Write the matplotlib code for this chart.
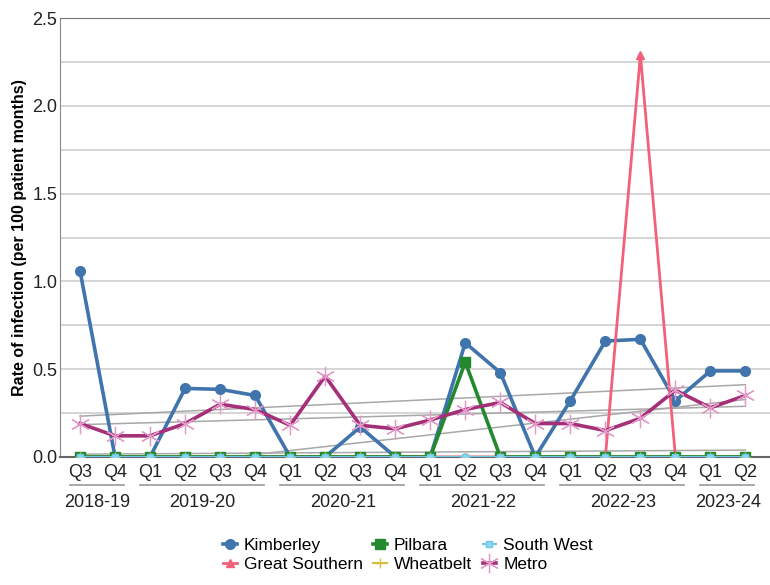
import numpy as np
import matplotlib.pyplot as plt
from matplotlib.ticker import MultipleLocator
import matplotlib.transforms as mtransforms

plt.rcParams['font.family'] = ['Liberation Sans', 'DejaVu Sans']
narrow = ['Liberation Sans Narrow', 'Liberation Sans', 'DejaVu Sans']

# quarters from 2018-19 Q3 to 2023-24 Q2
quarters = ['Q3', 'Q4',
            'Q1', 'Q2', 'Q3', 'Q4',
            'Q1', 'Q2', 'Q3', 'Q4',
            'Q1', 'Q2', 'Q3', 'Q4',
            'Q1', 'Q2', 'Q3', 'Q4',
            'Q1', 'Q2']
years = ['2018-19', '2019-20', '2020-21', '2021-22', '2022-23', '2023-24']
year_quarters = [2, 4, 4, 4, 4, 2]

kimberley = [1.06, 0.0, 0.0, 0.39, 0.385, 0.35, 0.0, 0.0, 0.17, 0.0,
             0.0, 0.65, 0.48, 0.0, 0.32, 0.66, 0.67, 0.32, 0.49, 0.49]
great_southern = [0.0, 0.0, 0.0, 0.0, 0.0, 0.0, 0.0, 0.0, 0.0, 0.0,
                  0.0, 0.0, 0.0, 0.0, 0.0, 0.0, 2.29, 0.0, 0.0, 0.0]
pilbara = [0.0, 0.0, 0.0, 0.0, 0.0, 0.0, 0.0, 0.0, 0.0, 0.0,
           0.0, 0.54, 0.0, 0.0, 0.0, 0.0, 0.0, 0.0, 0.0, 0.0]
wheatbelt = [0.0] * 20
south_west = [0.0] * 20
metro = [0.19, 0.12, 0.12, 0.19, 0.30, 0.27, 0.18, 0.46, 0.18, 0.16,
         0.21, 0.27, 0.31, 0.19, 0.19, 0.15, 0.22, 0.38, 0.28, 0.35]

x = np.arange(len(quarters))

fig = plt.figure(figsize=(7.7, 5.85), dpi=100)
ax = fig.add_axes([0.078, 0.219, 0.922, 0.750])

# linear trend lines
for vals in [kimberley, metro, great_southern, pilbara]:
    k, b = np.polyfit(x, vals, 1)
    ax.plot(x, k * x + b, color='#a8a8a8', lw=1.1, zorder=2)

ax.plot(x, kimberley, color='#3f74ad', lw=2.6, marker='o', ms=7,
        label='Kimberley', zorder=4)
ax.plot(x, great_southern, color='#f2607a', lw=2.0, marker='^', ms=6,
        label='Great Southern', zorder=4)
ax.plot(x, pilbara, color='#23892f', lw=2.6, marker='s', ms=7,
        label='Pilbara', zorder=4)
ax.plot(x, wheatbelt, color='#d8bd45', lw=1.5, marker='+', ms=7,
        label='Wheatbelt', zorder=4)
ax.plot(x, south_west, color='#6cc7ea', lw=1.5, marker='s', ms=5,
        mfc='#8fd6f2', mec='#6cc7ea', label='South West', zorder=4)
ax.plot(x, metro, color='#a52f78', lw=2.6, marker=(6, 2, 0), ms=14,
        mec='#e29ac8', mew=0.9, label='Metro', zorder=5)

ax.set_xlim(-0.57, 19.7)
ax.set_ylim(0, 2.5)
ax.yaxis.set_major_locator(MultipleLocator(0.5))
ax.yaxis.set_minor_locator(MultipleLocator(0.25))
ax.yaxis.set_major_formatter(plt.FuncFormatter(lambda v, p: f'{v:.1f}'))
ax.grid(axis='y', which='both', color='#d2d2d2', lw=1.3, zorder=0)
ax.set_axisbelow(True)
ax.tick_params(axis='y', which='both', length=0, labelsize=13, pad=2,
               labelcolor='#222222')
ax.tick_params(axis='x', length=0, labelsize=13, pad=5, labelcolor='#222222')
ax.set_xticks(x)
ax.set_xticklabels(quarters, family=narrow)
for t in ax.get_yticklabels():
    t.set_family(narrow)
ax.set_ylabel('Rate of infection (per 100 patient months)', fontsize=11.5,
              fontweight='bold', labelpad=4)

ax.spines['right'].set_visible(False)
ax.spines['left'].set_color('#888888')
ax.spines['bottom'].set_color('#666666')
ax.spines['top'].set_color('#777777')
ax.spines['bottom'].set_linewidth(1.5)

# financial year groups under the quarter labels
trans = mtransforms.blended_transform_factory(ax.transData, ax.transAxes)
start = 0
for year, n in zip(years, year_quarters):
    end = start + n - 1
    ax.plot([start - 0.3, end + 0.25], [-0.063, -0.063], color='#999999',
            lw=1.2, transform=trans, clip_on=False)
    ax.text((start + end) / 2, -0.085, year, transform=trans, ha='center',
            va='top', fontsize=13, family=narrow, color='#222222')
    start += n

handles, labels = ax.get_legend_handles_labels()
order = ['Kimberley', 'Great Southern', 'Pilbara', 'Wheatbelt', 'South West', 'Metro']
hmap = dict(zip(labels, handles))
ax.legend([hmap[n] for n in order], order, ncol=3, loc='upper center',
          bbox_to_anchor=(0.49, -0.15), frameon=False,
          prop={'family': narrow, 'size': 12.5},
          handlelength=0.8, handletextpad=0.4, columnspacing=0.6,
          labelspacing=0.2)

fig.savefig('out.png', dpi=100)
